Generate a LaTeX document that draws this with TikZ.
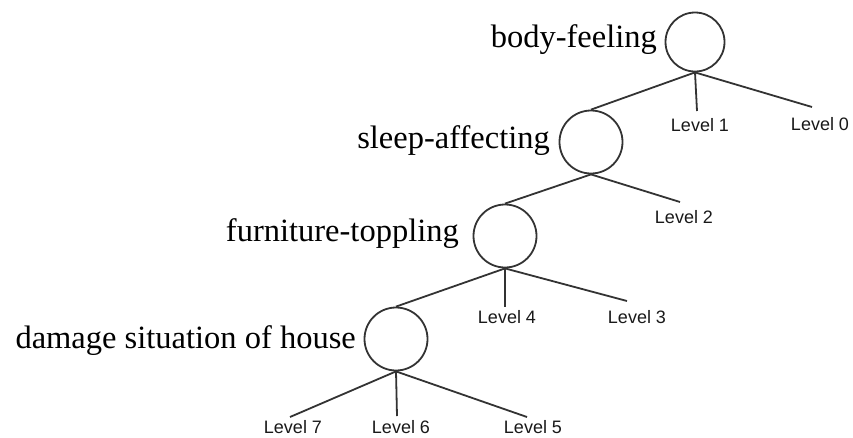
\documentclass[tikz,border=0pt]{standalone}
\usepackage{fontspec}
\setmainfont{Liberation Serif}
\setsansfont{Liberation Sans}

\tikzset{
  nodo/.style={circle, draw=black!80, line width=1.8pt, minimum size=63pt, inner sep=0pt},
  rama/.style={line width=1.8pt, black!80},
  nivel/.style={font=\sffamily\fontsize{18}{18}\selectfont, inner sep=0pt, black!90},
  etiqueta/.style={font=\fontsize{32.5}{34}\selectfont, anchor=base east, inner sep=0pt}
}

\begin{document}
\begin{tikzpicture}[x=1pt, y=-1pt]
\useasboundingbox (0,0) rectangle (853,437);

% Nodos
\node[nodo, minimum size=59pt] (body) at (695,42) {};
\node[nodo] (sleep) at (591,142) {};
\node[nodo] (furn) at (505,236) {};
\node[nodo] (house) at (396,339) {};

\node[etiqueta] (tbody) at (657,47) {body-feeling};
\node[etiqueta] (tsleep) at (550,148) {sleep-affecting};
\node[etiqueta] (tfurn) at (459,241) {furniture-toppling};
\node[etiqueta] (thouse) at (356,348) {damage situation of house};

% Niveles
\foreach \n/\x/\y in {0/820/124, 1/700/125, 2/684/217, 3/637/317,
                      4/507/317, 5/533/427, 6/401/427, 7/293/427}
	\node[nivel] (l\n) at (\x,\y) {Level \n};

\foreach \n/\x/\y in {0/812/107, 1/697/111, 2/680/202, 3/627/301,
                      4/505/307, 5/527/417, 6/397/416, 7/290/417}
	\coordinate (e\n) at (\x,\y);

% Ramas
\draw[rama] (body.south) -- (sleep.north);
\draw[rama] (body.south) -- (e1);
\draw[rama] (body.south) -- (e0);

\draw[rama] (sleep.south) -- (furn.north);
\draw[rama] (sleep.south) -- (e2);

\draw[rama] (furn.south) -- (house.north);
\draw[rama] (furn.south) -- (e4);
\draw[rama] (furn.south) -- (e3);

\foreach \n in {7, 6, 5}
	\draw[rama] (house.south) -- (e\n);
\end{tikzpicture}
\end{document}
